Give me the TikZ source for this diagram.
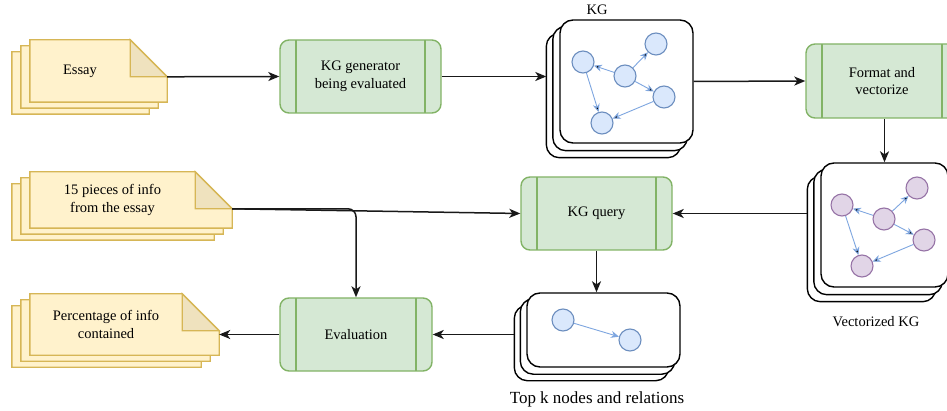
\documentclass[tikz,border=0pt]{standalone}
\usepackage{fontspec}
\setmainfont{Liberation Serif}
\usetikzlibrary{arrows.meta,calc,backgrounds}
\definecolor{docfill}{HTML}{FFF2CC}
\definecolor{docdraw}{HTML}{D6B656}
\definecolor{foldfill}{HTML}{EFE2BE}
\definecolor{procfill}{HTML}{D5E8D4}
\definecolor{procdraw}{HTML}{82B366}
\definecolor{kgfill}{HTML}{DAE8FC}
\definecolor{kgdraw}{HTML}{6C8EBF}
\definecolor{vecfill}{HTML}{E1D5E7}
\definecolor{vecdraw}{HTML}{9673A6}
\definecolor{relcol}{HTML}{7EA6E0}
\tikzset{
    doc/.style =    {rectangle,
                    inner sep=0pt,
                    align=center,
                    font=\fontsize{14.5}{17.5}\selectfont},
    sheet/.style =  {fill=docfill,
                    draw=docdraw,
                    line width=1.4pt},
    fold/.style =   {fill=foldfill,
                    draw=docdraw,
                    line width=1.4pt},
    proc/.style =   {rectangle,
                    rounded corners=9pt,
                    fill=procfill,
                    draw=procdraw,
                    line width=1.4pt,
                    minimum width=152pt,
                    minimum height=73pt,
                    align=center,
                    font=\fontsize{14.5}{17.5}\selectfont,
                    path picture={
                        \draw[procdraw,line width=1.4pt]
                            ([xshift=16pt]path picture bounding box.north west) -- ([xshift=16pt]path picture bounding box.south west)
                            ([xshift=-16pt]path picture bounding box.north east) -- ([xshift=-16pt]path picture bounding box.south east);}},
    stack/.style =  {rectangle,
                    rounded corners=13pt,
                    fill=white,
                    draw=black,
                    line width=1.4pt},
    kgnode/.style = {circle,
                    fill=kgfill,
                    draw=kgdraw,
                    line width=1.1pt,
                    minimum size=22pt,
                    inner sep=0pt},
    vecnode/.style = {kgnode,
                    fill=vecfill,
                    draw=vecdraw},
    rel/.style =    {draw=relcol,
                    line width=0.9pt,
                    -{Stealth[length=8pt,width=7pt]}},
    flow/.style =   {draw=black!90,
                    line width=1.5pt,
                    -{Stealth[length=11pt,width=9pt,inset=3pt]}},
    caption/.style = {font=\fontsize{14.5}{17.5}\selectfont}
}
\begin{document}
\begin{tikzpicture}[x=1pt,y=-1pt]
    \useasboundingbox (0,0) rectangle (947,411);

    % documents
    \node[doc, minimum width=100pt, minimum height=62pt] (essay) at (80,71)    {Essay};
    \node[doc, minimum width=165pt, minimum height=56pt] (info)  at (112.5,200) {15 pieces of info\\from the essay};
    \node[doc, minimum width=152pt, minimum height=61pt] (pct)   at (106,324.5) {Percentage of info\\contained};

    % process steps
    \node[proc, minimum width=161pt] (kggen)  at (360.5,76.5) {KG generator\\being evaluated};
    \node[proc, minimum height=74pt] (format) at (882,81)     {Format and\\vectorize};
    \node[proc, minimum width=151pt] (kgq)    at (596.5,213.5) {KG query};
    \node[proc]                      (eval)   at (356,334.5)  {Evaluation};

    % graph stacks
    \node[stack, minimum width=133pt, minimum height=123pt] (kg)   at (626.5,81.5) {};
    \node[stack, minimum width=127pt, minimum height=124pt] (vec)  at (884.5,225)  {};
    \node[stack, minimum width=153pt, minimum height=74pt]  (topk) at (603.5,330)  {};

    \node[caption] (kgcap)   at (597,10)  {KG};
    \node[caption] (veccap)  at (876,322) {Vectorized KG};
    \node[font=\fontsize{17}{20}\selectfont] (topkcap) at (597,399) {Top k nodes and relations};

    \node[kgnode] (g1) at (583,62)  {};
    \node[kgnode] (g2) at (625,76)  {};
    \node[kgnode] (g3) at (656,44)  {};
    \node[kgnode] (g4) at (664,97)  {};
    \node[kgnode] (g5) at (602,123) {};
    \path[rel] (g2) edge (g1) (g2) edge (g3) (g2) edge (g4)
               (g1) edge (g5) (g4) edge (g5);

    \node[vecnode] (v1) at (842,205) {};
    \node[vecnode] (v2) at (884,219) {};
    \node[vecnode] (v3) at (917,188) {};
    \node[vecnode] (v4) at (924,240) {};
    \node[vecnode] (v5) at (862,266) {};
    \path[rel] (v2) edge (v1) (v2) edge (v3) (v2) edge (v4)
               (v1) edge (v5) (v4) edge (v5);

    \node[kgnode] (t1) at (563,320) {};
    \node[kgnode] (t2) at (630,340) {};
    \draw[rel] (t1) -- (t2);

    \begin{scope}[on background layer]
        \foreach \n in {essay,info,pct}{
            \foreach \k in {2,1,0}
                \filldraw[sheet] ($(\n.south west)+(-9*\k,6*\k)$) |- ($(\n.north east)+(-9*\k,6*\k)$)
                    -- ++(37,37) |- ($(\n.south west)+(-9*\k,6*\k)$) -- cycle;
            \filldraw[fold] (\n.north east) -- ++(0,37) -- ++(37,0) -- cycle;
            \coordinate (\n-c) at ($(\n.north east)+(37,37)$);
        }
        \foreach \s/\dx/\dy in {kg/6.5/7,vec/6.5/7,topk/6/6.5}
            \foreach \k in {2,1}
                \draw[stack] ($(\s.south west)+(-\dx*\k,\dy*\k)$) rectangle ($(\s.north east)+(-\dx*\k,\dy*\k)$);
    \end{scope}

    % flow
    \draw[flow] (essay-c) -- (kggen.west);
    \draw[flow] (kggen.east) -- ($(kggen.east -| kg.west)+(-13,0)$);
    \draw[flow] (kg.east) -- (format.west);
    \draw[flow] (vec.north |- format.south) -- (vec.north);
    \draw[flow] ($(kgq.east -| vec.west)+(-13,0)$) -- (kgq.east);
    \draw[flow] (info-c) -- (kgq.west);
    \draw[flow, rounded corners=8pt] (info-c) -| (eval.north);
    \draw[flow] (kgq.south) -- (kgq.south |- topk.north);
    \draw[flow] ($(eval.east -| topk.west)+(-12,0)$) -- (eval.east);
    \draw[flow] (eval.west) -- (eval.west -| pct-c);
\end{tikzpicture}
\end{document}
